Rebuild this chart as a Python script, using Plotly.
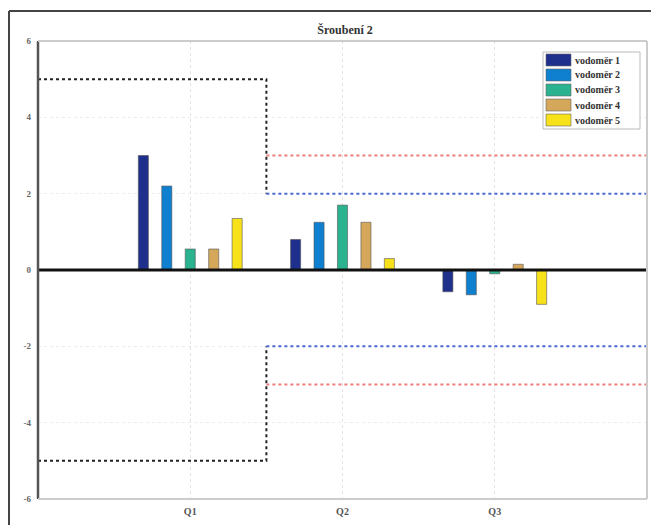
import plotly.graph_objects as go

categories = ["Q1", "Q2", "Q3"]
cat_pos = [1, 2, 3]
series_names = ["vodoměr 1", "vodoměr 2", "vodoměr 3", "vodoměr 4", "vodoměr 5"]
series_values = [
    [3.0, 0.8, -0.57],
    [2.2, 1.25, -0.65],
    [0.55, 1.7, -0.1],
    [0.55, 1.25, 0.15],
    [1.35, 0.3, -0.9],
]
series_colors = ["#1e2f8c", "#0f7fcf", "#2bb38f", "#d4a75a", "#f7e11a"]

# limit lines
black_x = [0, 1.5, 1.5]
black_upper = [5, 5, 2]
black_lower = [-5, -5, -2]
blue_x = [1.5, 4]
blue_upper = [2, 2]
blue_lower = [-2, -2]
red_x = [1.5, 4]
red_upper = [3, 3]
red_lower = [-3, -3]

y_ticks = [-6, -4, -2, 0, 2, 4, 6]

W, H = 651, 525
L, R, T, B = 38, 4, 41, 26
PW, PH = W - L - R, H - T - B


def px(X):
    return (X - L) / PW


def py(Y):
    return (H - B - Y) / PH


fig = go.Figure()


def line(x, y, color, dash, width=2):
    fig.add_trace(go.Scatter(x=x, y=y, mode="lines", showlegend=False,
                             hoverinfo="skip",
                             line=dict(color=color, dash=dash, width=width)))


line(black_x, black_upper, "#222222", "dot")
line(black_x, black_lower, "#222222", "dot")
line(blue_x, blue_upper, "#4a6ad0", "dot")
line(blue_x, blue_lower, "#4a6ad0", "dot")
line(red_x, red_upper, "#f07c7c", "dot")
line(red_x, red_lower, "#f07c7c", "dot")
line([0, 4], [0, 0], "#111111", "solid", 3)

for name, vals, col in zip(series_names, series_values, series_colors):
    fig.add_trace(go.Bar(x=cat_pos, y=vals, name=name, showlegend=False,
                         marker=dict(color=col, line=dict(color="#555555", width=0.6))))

shapes = [
    dict(type="line", xref="paper", yref="paper", x0=0, x1=0, y0=0, y1=1,
         line=dict(color="#555555", width=2.5)),
    dict(type="line", xref="paper", yref="paper", x0=1, x1=1, y0=0, y1=1,
         line=dict(color="#cccccc", width=2)),
    dict(type="line", xref="paper", yref="paper", x0=0, x1=1, y0=1, y1=1,
         line=dict(color="#cccccc", width=2)),
    dict(type="line", xref="paper", yref="paper", x0=0, x1=1, y0=0, y1=0,
         line=dict(color="#cccccc", width=2)),
    # outer frame of the picture
    dict(type="line", xref="paper", yref="paper", x0=px(9), x1=px(9), y0=py(525), y1=py(11),
         line=dict(color="#444444", width=2)),
    dict(type="line", xref="paper", yref="paper", x0=px(9), x1=px(651), y0=py(11), y1=py(11),
         line=dict(color="#444444", width=2)),
    # legend box
    dict(type="rect", xref="paper", yref="paper", x0=px(543), x1=px(640), y0=py(129), y1=py(52),
         line=dict(color="#bbbbbb", width=1), fillcolor="white", layer="above"),
]
annotations = []
for i, (name, col) in enumerate(zip(series_names, series_colors)):
    yc = 60 + 15 * i
    shapes.append(dict(type="rect", xref="paper", yref="paper",
                       x0=px(546), x1=px(571), y0=py(yc + 6), y1=py(yc - 6),
                       fillcolor=col, line=dict(color="#666666", width=0.6), layer="above"))
    annotations.append(dict(xref="paper", yref="paper", x=px(573), y=py(yc),
                            xanchor="left", yanchor="middle", showarrow=False,
                            text="<b>" + name + "</b>",
                            font=dict(family="Liberation Serif", size=10, color="#333333")))

fig.update_layout(
    width=W, height=H,
    margin=dict(l=L, r=R, t=T, b=B),
    paper_bgcolor="white", plot_bgcolor="white",
    barmode="group", bargap=0.23, bargroupgap=0.57,
    showlegend=False,
    font=dict(family="Liberation Serif", size=10, color="#444444"),
    title=dict(text="<b>Šroubení 2</b>", x=0.53, xanchor="center", y=0.943, yanchor="middle",
               font=dict(size=12, color="#333333")),
    xaxis=dict(range=[0, 4], tickvals=cat_pos, ticktext=["<b>" + c + "</b>" for c in categories],
               showgrid=True, gridcolor="#e2e2e2", griddash="dot", gridwidth=1,
               showline=False, ticks="", zeroline=False, ticklabelstandoff=5,
               tickfont=dict(size=10, color="#555555")),
    yaxis=dict(range=[-6, 6], tickvals=y_ticks, ticktext=["<b>" + str(v) + "</b>" for v in y_ticks],
               showgrid=True, gridcolor="#ececec", griddash="dot", gridwidth=1,
               showline=False, zeroline=False, ticks="", ticklabelstandoff=6,
               tickfont=dict(size=9, color="#666666")),
    shapes=shapes,
    annotations=annotations,
)

fig.write_html("out.html")
